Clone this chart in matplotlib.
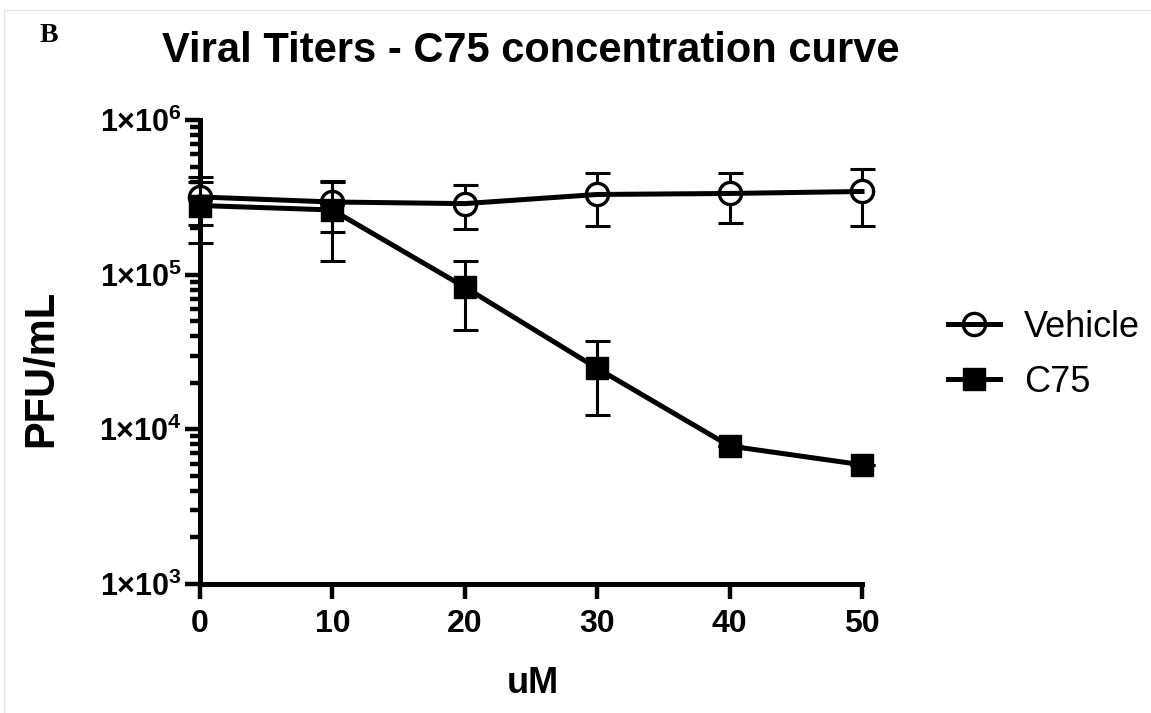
import matplotlib
matplotlib.use("Agg")
from matplotlib import pyplot as plt
from matplotlib.lines import Line2D
from matplotlib.ticker import FuncFormatter, LogLocator, NullFormatter
import numpy as np

plt.rcParams['font.family'] = ['Liberation Sans', 'DejaVu Sans']
plt.rcParams['mathtext.fontset'] = 'custom'
plt.rcParams['mathtext.rm'] = 'Liberation Sans'
plt.rcParams['mathtext.bf'] = 'Liberation Sans:bold'

# data
conc = [0, 10, 20, 30, 40, 50]
vehicle_mean = [3.18e5, 2.95e5, 2.88e5, 3.3e5, 3.35e5, 3.45e5]
vehicle_sd = [1.1e5, 1.05e5, 0.9e5, 1.25e5, 1.2e5, 1.4e5]
c75_mean = [2.8e5, 2.62e5, 8.3e4, 2.48e4, 7.8e3, 5.9e3]
c75_sd = [1.2e5, 1.4e5, 3.9e4, 1.24e4, 0, 0]
x_ticks = [0, 10, 20, 30, 40, 50]

fig = plt.figure(figsize=(11.51, 7.13), dpi=100)
ax = fig.add_axes([200 / 1151, 1 - 584 / 713, 662 / 1151, 464 / 713])

LW = 3.6
EW = 2.2


def unclip(container):
    for a in container.get_children():
        a.set_clip_on(False)


### ### ### VEHICLE               ### ### ###
eb = ax.errorbar(conc, vehicle_mean, yerr=vehicle_sd, fmt='none', ecolor='k',
                 elinewidth=EW, capsize=9, capthick=EW, zorder=2)
unclip(eb)
ax.plot(conc, vehicle_mean, ls='none', marker='o', ms=16, mfc='white', mec='none',
        zorder=3, clip_on=False)
veh_line, = ax.plot(conc, vehicle_mean, color='k', lw=LW, marker='o', ms=16, mfc='none',
                    mec='k', mew=2.4, zorder=4, clip_on=False, label='Vehicle')

### ### ### C75                   ### ### ###
eb = ax.errorbar(conc, c75_mean, yerr=c75_sd, fmt='none', ecolor='k',
                 elinewidth=EW, capsize=9, capthick=EW, zorder=6)
unclip(eb)
c75_line, = ax.plot(conc, c75_mean, color='k', lw=LW, marker='s', ms=15.5, mfc='k',
                    mec='k', zorder=7, clip_on=False, label='C75')

### ### ### AXES                  ### ### ###
ax.set_yscale('log')
ax.set_ylim(1e3, 1e6)
ax.set_xlim(0, 50)
ax.set_xticks(x_ticks)
ax.set_xticklabels([str(t) for t in x_ticks], fontsize=23, fontweight='bold')
ax.yaxis.set_major_locator(LogLocator(base=10, numticks=10))
ax.yaxis.set_minor_locator(LogLocator(base=10, subs=np.arange(2, 10), numticks=20))
ax.yaxis.set_minor_formatter(NullFormatter())
ax.yaxis.set_major_formatter(FuncFormatter(
    lambda v, p: r'$\mathbf{1×10^{%d}}$' % int(round(np.log10(v)))))

for side in ['top', 'right']:
    ax.spines[side].set_visible(False)
for side in ['left', 'bottom']:
    ax.spines[side].set_linewidth(LW)
    ax.spines[side].set_capstyle('projecting')

ax.tick_params(axis='x', which='major', length=11, width=3.2, direction='out', pad=7)
ax.tick_params(axis='y', which='major', length=11, width=3.2, direction='out', pad=2, labelsize=22)
ax.tick_params(axis='y', which='minor', length=7, width=3.2, direction='out')

### ### ### TEXT                  ### ### ###
fig.text(531 / 1151, 1 - 62 / 713, 'Viral Titers - C75 concentration curve',
         ha='center', va='baseline', fontsize=30, fontweight='bold')
fig.text(41 / 1151, 1 - 368 / 713, 'PFU/mL', rotation=90, ha='center', va='center',
         fontsize=30, fontweight='bold')
fig.text(533 / 1151, 1 - 693 / 713, 'uM', ha='center', va='baseline',
         fontsize=26, fontweight='bold')
fig.text(40 / 1151, 1 - 42 / 713, 'B', ha='left', va='baseline',
         fontsize=20, fontweight='bold', family='Liberation Serif')

fig.legend(handles=[veh_line, c75_line], loc='center left',
           bbox_to_anchor=(948 / 1151, 1 - 355 / 713), frameon=False,
           fontsize=26, handlelength=1.45, handletextpad=0.65,
           labelspacing=0.55, borderpad=0, borderaxespad=0)

# faint frame round the figure
fig.add_artist(Line2D([4 / 1151, 1], [1 - 10 / 713, 1 - 10 / 713], color='#e6e6e6', lw=1))
fig.add_artist(Line2D([4 / 1151, 4 / 1151], [0, 1 - 10 / 713], color='#e6e6e6', lw=1))

fig.savefig('out.png', dpi=100)
